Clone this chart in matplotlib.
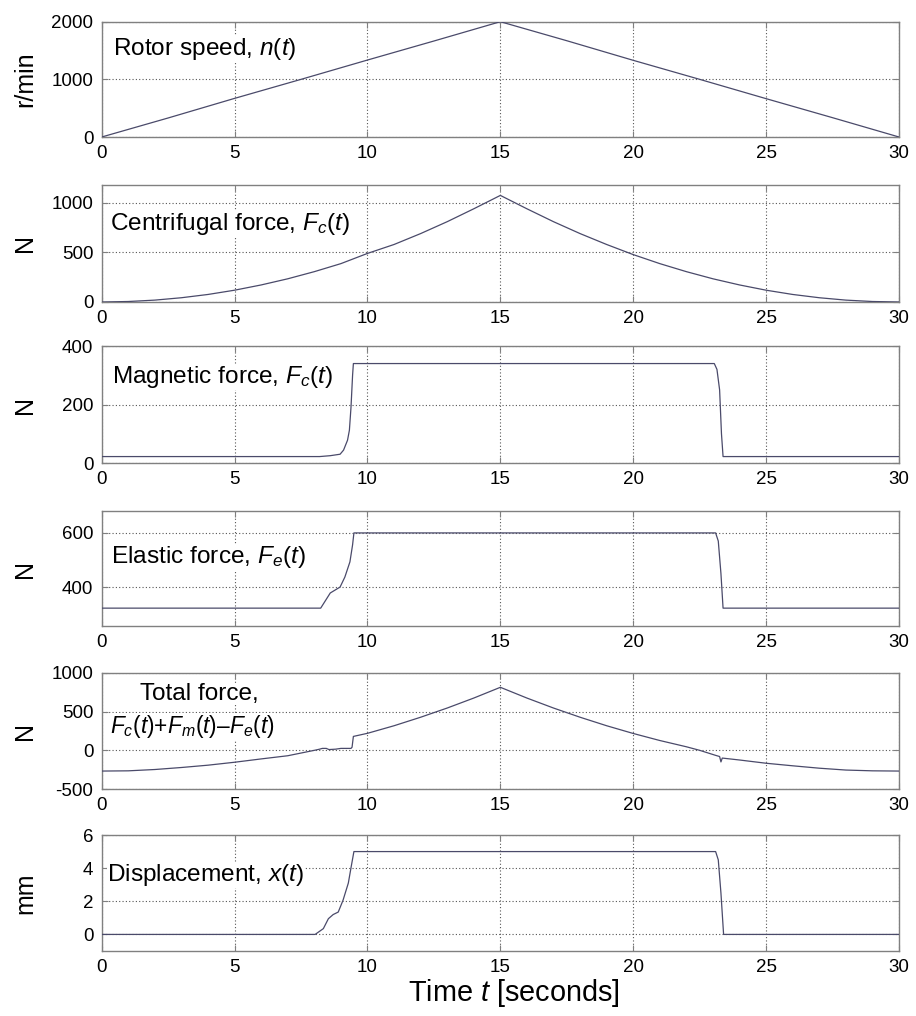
import matplotlib
matplotlib.use("Agg")
import matplotlib.pyplot as plt
from matplotlib import font_manager as fm

# ---------------- data ----------------
rotor_t = [0, 2.5, 5, 7.5, 10, 12.5, 15, 17.5, 20, 22.5, 25, 27.5, 30]
rotor_n = [0, 330, 670, 1000, 1335, 1665, 2000, 1670, 1330, 1000, 665, 335, 0]

cent_t = [0, 1, 2, 3, 4, 5, 6, 7, 8, 9, 10, 11, 12, 13, 14, 15,
          16, 17, 18, 19, 20, 21, 22, 23, 24, 25, 26, 27, 28, 29, 30]
cent_f = [0, 5, 19, 43, 76, 119, 172, 234, 306, 387, 490, 580, 690, 810, 940, 1075,
          940, 810, 690, 580, 478, 387, 306, 234, 172, 119, 76, 43, 19, 5, 0]

mag_t = [0, 8.2, 8.6, 8.97, 9.1, 9.25, 9.32, 9.38, 9.44, 9.47,
         23.05, 23.15, 23.25, 23.32, 23.38, 30]
mag_f = [22, 22, 25, 30, 44, 78, 112, 190, 300, 340,
         340, 320, 250, 100, 22, 22]

el_t = [0, 8.24, 8.6, 8.97, 9.15, 9.34, 9.44, 9.49, 23.1, 23.2, 23.3, 23.38, 30]
el_f = [322, 322, 378, 400, 437, 493, 556, 600, 600, 570, 450, 322, 322]

tot_t = [0, 1, 2, 3, 4, 5, 6, 7, 7.5, 8, 8.2, 8.3, 8.45, 8.55, 8.8, 9.0, 9.38, 9.42, 9.47,
         10, 11, 12, 13, 14, 15, 16, 17, 18, 19, 20, 21, 22, 22.5,
         23.1, 23.25, 23.3, 23.35, 24, 25, 26, 27, 28, 29, 30]
tot_f = [-268, -265, -248, -222, -192, -154, -111, -70, -35, 0, 15, 25, 25, 10, 15, 25, 25, 40, 180,
         220, 318, 428, 547, 676, 815, 676, 547, 428, 318, 218, 127, 46, 0,
         -65, -80, -150, -100, -125, -167, -200, -231, -255, -265, -268]

disp_t = [0, 8.03, 8.34, 8.53, 8.71, 8.9, 9.08, 9.28, 9.4, 9.49, 23.1, 23.2, 23.3, 23.4, 30]
disp_x = [0, 0, 0.35, 0.95, 1.2, 1.35, 2.06, 3.1, 4.2, 5.0, 5.0, 4.5, 2.5, 0, 0]

x_ticks = [0, 5, 10, 15, 20, 25, 30]
panel_titles = ["Rotor speed, $n(t)$",
                "Centrifugal force, $F_c(t)$",
                "Magnetic force, $F_c(t)$",
                "Elastic force, $F_e(t)$",
                "Total force,",
                "Displacement, $x(t)$"]
total_second_line = "$F_c(t)$+$F_m(t)$\u2013$F_e(t)$"
y_labels = ["r/min", "N", "N", "N", "N", "mm"]
y_ticks = [[0, 1000, 2000], [0, 500, 1000], [0, 200, 400], [400, 600],
           [-500, 0, 500, 1000], [0, 2, 4, 6]]
y_lims = [(0, 2000), (0, 1180), (0, 400), (256, 681), (-500, 1000), (-1, 6)]
x_label = "Time $t$ [seconds]"

# ---------------- fonts ----------------
names = {f.name for f in fm.fontManager.ttflist}
narrow = "Liberation Sans Narrow" if "Liberation Sans Narrow" in names else "Liberation Sans"
plt.rcParams["font.family"] = ["Liberation Sans", "DejaVu Sans"]
plt.rcParams["mathtext.fontset"] = "custom"
plt.rcParams["mathtext.rm"] = narrow
plt.rcParams["mathtext.it"] = narrow + ":italic"
plt.rcParams["axes.unicode_minus"] = False

title_size = 21.5 if narrow != "Liberation Sans" else 17.6
total2_size = 19.5 if narrow != "Liberation Sans" else 16.4
ylab_size = 21.5 if narrow != "Liberation Sans" else 18.0

W, H = 916, 1016
fig = plt.figure(figsize=(W / 100, H / 100), dpi=100)

left_px, right_px = 101.7, 899
tops = [21.7, 185, 346, 511, 673, 835]
bots = [137, 302, 463, 626, 789, 951]

series = [(rotor_t, rotor_n), (cent_t, cent_f), (mag_t, mag_f),
          (el_t, el_f), (tot_t, tot_f), (disp_t, disp_x)]
text_pos = [(113, 55), (110, 230), (112, 383), (111, 563), (140, 700), (107, 881)]

line_color = "#4a4a6a"
frame_color = "#808080"

for i in range(6):
    rect = [left_px / W, 1 - bots[i] / H, (right_px - left_px) / W, (bots[i] - tops[i]) / H]
    ax = fig.add_axes(rect)
    t, v = series[i]
    ax.plot(t, v, color=line_color, lw=0.9, zorder=3)
    ax.set_xlim(0, 30)
    ax.set_ylim(*y_lims[i])
    ax.set_xticks(x_ticks)
    ax.set_yticks(y_ticks[i])
    ax.grid(True, linestyle=(0, (1, 2)), color="#555555", lw=0.8)
    ax.set_axisbelow(True)
    for s in ax.spines.values():
        s.set_color(frame_color)
        s.set_linewidth(1.0)
    ax.tick_params(direction="in", length=4, color=frame_color, labelsize=13.5,
                   top=True, right=True, pad=6)
    ax.set_ylabel(y_labels[i], fontsize=ylab_size, family=narrow)
    ax.yaxis.label.set_va("center")
    ax.yaxis.set_label_coords((25 - left_px) / (right_px - left_px), 0.5)

    tx, ty = text_pos[i]
    ax.text((tx - left_px) / (right_px - left_px), (bots[i] - ty) / (bots[i] - tops[i]),
            panel_titles[i], transform=ax.transAxes, fontsize=title_size,
            family=narrow, va="baseline", ha="left", zorder=5,
            bbox=dict(facecolor="white", edgecolor="none", pad=0))
    if i == 4:
        tx2, ty2 = 110, 733
        ax.text((tx2 - left_px) / (right_px - left_px), (bots[i] - ty2) / (bots[i] - tops[i]),
                total_second_line, transform=ax.transAxes, fontsize=total2_size,
                family=narrow, va="baseline", ha="left", zorder=5,
                bbox=dict(facecolor="white", edgecolor="none", pad=0))

fig.text(514 / W, 1 - 1001 / H, x_label, fontsize=20.8, ha="center", va="baseline")

fig.savefig("out.png", dpi=100, facecolor="white")
